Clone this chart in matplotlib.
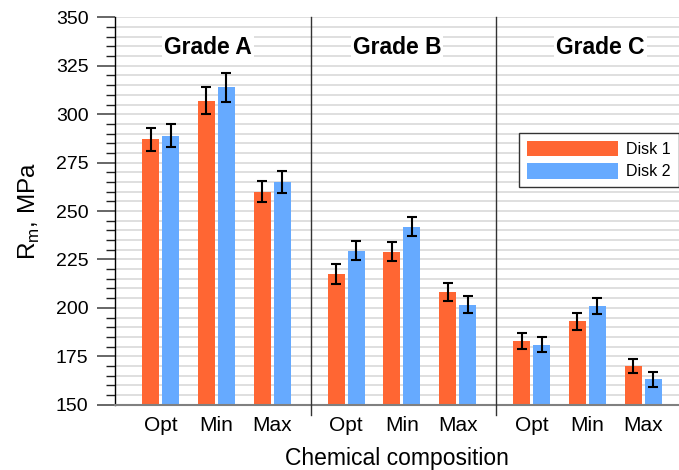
import numpy as np
import matplotlib
matplotlib.use("Agg")
import matplotlib.pyplot as plt
from matplotlib.ticker import MultipleLocator

plt.rcParams['font.family'] = ['Liberation Sans', 'DejaVu Sans']

# ---------- data ----------
grades = ["Grade A", "Grade B", "Grade C"]
compositions = ["Opt", "Min", "Max"]

disk1 = [287, 307, 260, 217.5, 229, 208, 183, 193, 170]
disk2 = [289, 314, 265, 229.5, 242, 201.5, 181, 201, 163]
disk1_err = [6, 7, 5.5, 5, 5, 4.7, 4.2, 4.2, 3.8]
disk2_err = [6, 7.5, 5.7, 4.8, 5, 4.4, 3.9, 4.3, 4]

# ---------- layout ----------
group_step = 3.33
bar_w = 0.305
offset = 0.18
col1 = "#FF6633"
col2 = "#66AAFF"

x = np.array([g * group_step + i for g in range(len(grades)) for i in range(len(compositions))])

fig = plt.figure(figsize=(6.79, 4.70), dpi=100)
ax = fig.add_axes([0.169, 0.139, 0.831, 0.824])

# grid
ax.set_ylim(150, 350)
ax.set_xlim(-0.826, 9.305)
ax.yaxis.set_major_locator(MultipleLocator(25))
ax.yaxis.set_minor_locator(MultipleLocator(5))
ax.grid(axis='y', which='both', color='#d9d9d9', linewidth=1.2, zorder=0)
ax.set_axisbelow(True)

ekw = dict(ecolor='black', elinewidth=1.5, capsize=3.5, capthick=1.5)
ax.bar(x - offset, disk1, bar_w, color=col1, label="Disk 1", zorder=2,
       yerr=disk1_err, error_kw=ekw)
ax.bar(x + offset, disk2, bar_w, color=col2, label="Disk 2", zorder=2,
       yerr=disk2_err, error_kw=ekw)

# group separators (extend a bit below the axis)
for g in range(1, len(grades)):
    xs = g * group_step - 0.635
    ax.plot([xs, xs], [144.8, 350], color='#333333', linewidth=1.0,
            clip_on=False, zorder=3)

# group titles
title_x = [0.85, 4.24, 7.9]
for tx, name in zip(title_x, grades):
    ax.text(tx, 334.7, name, ha='center', va='center', fontsize=16.5,
            fontweight='bold', zorder=4,
            bbox=dict(facecolor='white', edgecolor='none', pad=1.5))

# axes styling
for s in ['top', 'right']:
    ax.spines[s].set_visible(False)
ax.spines['left'].set_color('black')
ax.spines['left'].set_linewidth(1.0)
ax.spines['bottom'].set_color('#808080')
ax.spines['bottom'].set_linewidth(1.5)

ax.set_xticks(x)
ax.set_xticklabels(compositions * len(grades), fontsize=15)
ax.tick_params(axis='x', length=0, pad=8)
ax.tick_params(axis='y', which='major', length=13, width=1.4, color='#666666',
               labelsize=14, pad=6)
ax.tick_params(axis='y', which='minor', length=6.5, width=1.0, color='#222222')

ax.set_xlabel("Chemical composition", fontsize=16.5, labelpad=9)
ax.set_ylabel(r"R$_\mathregular{m}$, MPa", fontsize=17.5, labelpad=10)

leg = ax.legend(loc='upper right', bbox_to_anchor=(1.0, 0.702), fontsize=11.5,
                frameon=True, fancybox=False, handlelength=5.7, handleheight=1.1,
                borderpad=0.5, labelspacing=0.4, handletextpad=0.55,
                borderaxespad=0.0)
leg.get_frame().set_edgecolor('#333333')
leg.get_frame().set_linewidth(1.0)
leg.get_frame().set_alpha(1)

fig.savefig("out.png", dpi=100)
